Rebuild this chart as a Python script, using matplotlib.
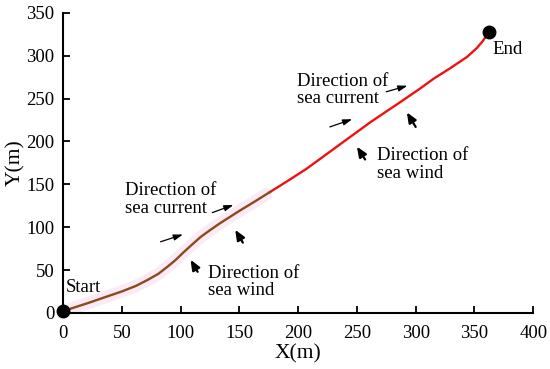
import matplotlib.pyplot as plt
import numpy as np

# trajectory
path_x = [0, 10, 21.5, 35, 50, 62, 72, 81, 89, 96, 102, 110, 117, 125, 134, 142, 150, 162, 176,
          190, 207, 220, 235, 250, 261, 275, 287, 304, 315, 330, 344, 352, 357, 362]
path_y = [2, 6.5, 11.6, 18, 25, 31.5, 38.5, 45.5, 54, 62, 70, 80, 88.5, 96.5, 105, 112, 119, 129, 141,
          153, 168, 181, 196, 211, 222, 235, 246, 262, 273, 286, 299, 309, 317, 327]
split_x = 178

start_pt = (0, 2)
end_pt = (362, 328)

# sea current arrows (tail -> head)
current_tail = [(83, 83), (127, 117), (227, 217), (275, 258)]
current_head = [(102, 91.5), (145, 126), (246, 226), (293, 265)]
# sea wind arrows (tail -> tip)
wind_tail = [(114.5, 48), (153, 82), (257, 179), (300, 217)]
wind_tip = [(108.5, 62), (146.5, 97), (250, 194), (292.5, 234)]

labels = [
  ("Start", 2.5, 30),
  ("End", 365, 307),
  ("Direction of\nsea current", 53, 132),
  ("Direction of\nsea wind", 123, 36),
  ("Direction of\nsea current", 199, 260),
  ("Direction of\nsea wind", 267, 173),
]

plt.rcParams['font.family'] = ['Liberation Serif', 'DejaVu Serif']

fig = plt.figure(figsize=(5.5, 3.69), dpi=100)
ax = fig.add_axes([0.1145, 0.152, 0.855, 0.813])

px = np.array(path_x)
py = np.array(path_y)
first = px <= split_x
last_first = first.sum() - 1
# faint pink band under the early part
ax.plot(px[first], py[first], color='#fdeaf7', lw=9, solid_capstyle='butt', zorder=1)
ax.plot(px[last_first:], py[last_first:], color='#ee1111', lw=1.7, zorder=2)
ax.plot(px[first], py[first], color='#8a4a1a', lw=1.7, zorder=3)

ax.plot(*start_pt, 'o', color='black', ms=9, zorder=5, clip_on=False)
ax.plot(*end_pt, 'o', color='black', ms=9, zorder=5, clip_on=False)

for t, h in zip(current_tail, current_head):
  ax.annotate('', xy=h, xytext=t,
              arrowprops=dict(arrowstyle='-|>,head_length=0.55,head_width=0.18', color='black',
                              lw=0.9, shrinkA=0, shrinkB=0))
for t, h in zip(wind_tail, wind_tip):
  ax.annotate('', xy=h, xytext=t,
              arrowprops=dict(arrowstyle='-|>,head_length=0.6,head_width=0.25', color='black',
                              lw=1.6, shrinkA=0, shrinkB=0))

for txt, x, y in labels:
  ax.text(x, y, txt, fontsize=13.5, ha='left', va='center', linespacing=1.05)

ax.set_xlim(0, 400)
ax.set_ylim(0, 350)
ax.set_xticks(range(0, 401, 50))
ax.set_yticks(range(0, 351, 50))
ax.spines['top'].set_visible(False)
ax.spines['right'].set_visible(False)
for s in ('left', 'bottom'):
  ax.spines[s].set_linewidth(1.5)
ax.tick_params(direction='in', length=5, width=1.3, labelsize=13.5)
ax.tick_params(axis='x', pad=9)
ax.tick_params(axis='y', pad=6)
ax.set_xlabel('X(m)', fontsize=15.5, labelpad=1)
ax.set_ylabel('Y(m)', fontsize=15.5, labelpad=1)

plt.savefig('out.png', dpi=100)
plt.close()
